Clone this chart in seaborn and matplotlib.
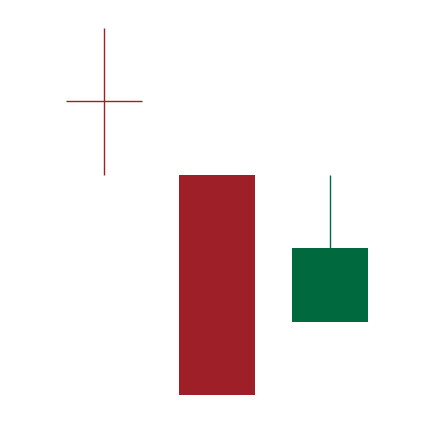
import numpy as np
import pandas as pd
import matplotlib
matplotlib.use("Agg")
import matplotlib.pyplot as plt
import seaborn as sns

# candle data (open, high, low, close)
days = [0, 1, 2]
opens = [90, 80, 60]
highs = [100, 80, 80]
lows = [80, 50, 60]
closes = [90, 50, 70]

up_color = "#00693E"
down_color = "#9E1F27"

df = pd.DataFrame({"day": days, "open": opens, "high": highs, "low": lows, "close": closes})

sns.set_theme(style="white")
fig = plt.figure(figsize=(4.34, 4.22), dpi=100)
ax = fig.add_axes([0, 0, 1, 1])

width = 0.665
for _, r in df.iterrows():
    color = up_color if r["close"] > r["open"] else down_color
    top = max(r["open"], r["close"])
    bot = min(r["open"], r["close"])
    # wicks only outside the body
    if r["high"] > top:
        ax.vlines(r["day"], top, r["high"], color=color, linewidth=1.0, zorder=1)
    if r["low"] < bot:
        ax.vlines(r["day"], r["low"], bot, color=color, linewidth=1.0, zorder=1)
    if r["close"] == r["open"]:
        ax.hlines(r["open"], r["day"] - width / 2, r["day"] + width / 2, color=color, linewidth=1.0)
    else:
        ax.bar(r["day"], top - bot, bottom=bot, width=width, color=color, linewidth=0, zorder=3)

ax.set_xlim(-0.92, 2.92)
ax.set_ylim(46.32, 103.81)
ax.axis("off")

fig.savefig("out.png", dpi=100)
